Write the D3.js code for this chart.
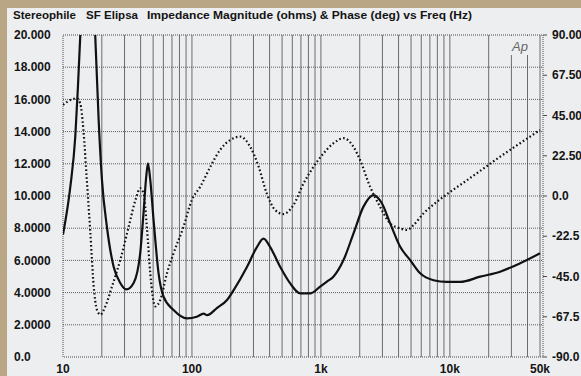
<!DOCTYPE html>
<html>
<head>
<meta charset="utf-8">
<script src="https://cdn.jsdelivr.net/npm/d3@7"></script>
<style>
  body { margin: 0; background: #b8a684; }
  svg { display: block; }
  text { font-family: "Liberation Sans", Arial, sans-serif; font-weight: bold; fill: #141414; }
</style>
</head>
<body>
<svg id="chart" width="581" height="376"></svg>
<script>
// title pieces, with the wide gaps the plotter leaves between them
const titleParts = ["Stereophile", "SF Elipsa", "Impedance Magnitude (ohms) & Phase (deg) vs Freq (Hz)"];

// impedance magnitude, solid trace
const impFreq = [10, 11.4, 12.45, 13.06, 13.6, 14.5, 15.6, 16.7, 17.8, 18.9, 20.05, 21.9, 24.7, 27.8, 31, 35.3,
  39.7, 42.1, 44.2, 45.6, 47.5, 50.4, 55.1, 60.2, 72, 91.4, 109, 123, 131, 156, 187, 210, 267, 319, 359, 404,
  484, 578, 691, 826, 987, 1113, 1254, 1497, 1790, 2138, 2557, 2970, 3444, 4118, 4920, 5885, 7470, 9480,
  12020, 17180, 24540, 35050, 50000];
const impOhms = [7.6, 10.58, 13.68, 16.79, 19.9, 26, 30, 26, 19.9, 14.72, 11.0, 8.09, 5.6, 4.6, 4.2, 4.6,
  6.45, 8.93, 11.2, 12.03, 11.0, 8.5, 5.2, 3.75, 2.92, 2.4, 2.5, 2.7, 2.6, 3.04, 3.54, 4.14, 5.59, 6.83, 7.35, 6.83,
  5.59, 4.57, 3.95, 3.95, 4.37, 4.68, 5.0, 6.02, 7.68, 9.34, 10.06, 9.55, 8.3, 6.85, 6.02, 5.2, 4.77, 4.66,
  4.66, 4.99, 5.3, 5.82, 6.44];

// phase, dotted trace
const phaseFreq = [10, 11.4, 12.8, 13.6, 14.4, 15.3, 16.3, 17.3, 18.3, 19.5, 21.3, 24, 27.8, 32.3, 36.5, 39.7,
  42.1, 44.7, 47.5, 51.9, 56.8, 64, 72, 86, 99.8, 116, 139, 165, 198, 237, 283, 329, 380, 441, 512, 613, 734,
  878, 1050, 1254, 1497, 1790, 2013, 2406, 2876, 3444, 4118, 4650, 5230, 6260, 7950, 10100, 13620, 18340,
  24540, 35050, 50000];
const phaseDeg = [50.9, 53.7, 54.6, 51.8, 36.9, 8.9, -20.7, -50.5, -63.5, -66.3, -61.7, -50.5, -35.8, -17.2, -2.2, 4.3,
  1.5, -17.2, -43.2, -61.7, -58.1, -43.2, -32, -17.2, -2.2, 5.2, 16.4, 25.7, 31.3, 33.2, 27.5, 16.4, 1.5, -7.8, -10.1, -5, 7.1,
  16.4, 23.9, 29.5, 32.3, 27.5, 20.1, 5.2, -6, -15.3, -18.1, -19, -16.2, -9.7, -3.2, 2.4, 8.9, 15.5,
  22, 29.5, 36.9];

const ohmTicks = [0, 2, 4, 6, 8, 10, 12, 14, 16, 18, 20];
const ohmTickLabels = ["0.0", "2.0000", "4.0000", "6.0000", "8.0000", "10.000", "12.000", "14.000", "16.000", "18.000", "20.000"];
const degTicks = [-90, -67.5, -45, -22.5, 0, 22.5, 45, 67.5, 90];
const degTickLabels = ["-90.0", "-67.5", "-45.0", "-22.5", "0.0", "22.50", "45.00", "67.50", "90.00"];
const freqTicks = [10, 100, 1000, 10000, 50000];
const freqTickLabels = ["10", "100", "1k", "10k", "50k"];

const svg = d3.select("#chart");
const plot = { left: 63, right: 540, top: 35, bottom: 357 };
const frameRight = 543;

const x = d3.scaleLog().domain([10, 50000]).range([plot.left, plot.right]);
const yOhm = d3.scaleLinear().domain([0, 20]).range([plot.bottom, plot.top]);
const yDeg = d3.scaleLinear().domain([-90, 90]).range([plot.bottom, plot.top]);

// scanned page: tan margin, pale panel
svg.append("rect").attr("x", 7).attr("y", 8).attr("width", 574).attr("height", 368).attr("fill", "#eceef0");

// each piece is pinned to where it sits and stretched to its measured width
const titleX = [13, 86, 147];
const titleW = [63, 52, 325];
svg.append("g").selectAll("text")
  .data(titleParts)
  .enter()
  .append("text")
  .attr("x", (d, i) => titleX[i])
  .attr("y", 19)
  .attr("font-size", 11.5)
  .attr("textLength", (d, i) => titleW[i])
  .attr("lengthAdjust", "spacingAndGlyphs")
  .text((d) => d);

const grid = svg.append("g");

grid.selectAll("line.v")
  .data(x.ticks().filter((f) => f > 10 && f < 50000))
  .enter()
  .append("line")
  .attr("x1", (f) => x(f)).attr("x2", (f) => x(f))
  .attr("y1", plot.top).attr("y2", plot.bottom)
  .attr("stroke", "#5e5e5e")
  .attr("stroke-width", 0.9);

grid.selectAll("line.h")
  .data(ohmTicks.slice(1, -1))
  .enter()
  .append("line")
  .attr("x1", plot.left).attr("x2", frameRight)
  .attr("y1", (v) => yOhm(v)).attr("y2", (v) => yOhm(v))
  .attr("stroke", "#4a4a4a")
  .attr("stroke-width", 0.9)
  .attr("stroke-dasharray", "1,1");

// the 50k line plus dotted frame
grid.append("line")
  .attr("x1", x(50000)).attr("x2", x(50000))
  .attr("y1", plot.top).attr("y2", plot.bottom)
  .attr("stroke", "#5e5e5e").attr("stroke-width", 0.9);

grid.append("rect")
  .attr("x", plot.left).attr("y", plot.top)
  .attr("width", frameRight - plot.left).attr("height", plot.bottom - plot.top)
  .attr("fill", "none")
  .attr("stroke", "#4a4a4a")
  .attr("stroke-width", 1)
  .attr("stroke-dasharray", "1,1");

// Ap logo sits over the grid
svg.append("rect").attr("x", 503).attr("y", 36).attr("width", 36).attr("height", 19).attr("fill", "#eceef0");
svg.append("text")
  .attr("x", 520).attr("y", 51)
  .attr("text-anchor", "middle")
  .attr("font-size", 13)
  .attr("font-style", "italic")
  .style("font-weight", "normal")
  .style("fill", "#666")
  .text("Ap");

// left axis labels
svg.append("g").selectAll("text")
  .data(ohmTicks)
  .enter()
  .append("text")
  .attr("x", 14)
  .attr("y", (v) => yOhm(v))
  .attr("dy", "0.35em")
  .attr("font-size", 12)
  .text((v, i) => ohmTickLabels[i]);

// right axis ticks and labels
const right = svg.append("g");
right.selectAll("line")
  .data(degTicks)
  .enter()
  .append("line")
  .attr("x1", frameRight).attr("x2", frameRight + 4)
  .attr("y1", (d) => yDeg(d)).attr("y2", (d) => yDeg(d))
  .attr("stroke", "#4a4a4a");
right.selectAll("text")
  .data(degTicks)
  .enter()
  .append("text")
  .attr("x", 552)
  .attr("y", (d) => yDeg(d))
  .attr("dy", "0.35em")
  .attr("font-size", 12)
  .text((d, i) => degTickLabels[i]);

// bottom labels, kept just inside the lower edge
svg.append("g").selectAll("text")
  .data(freqTicks)
  .enter()
  .append("text")
  .attr("x", (f) => x(f))
  .attr("y", 373)
  .attr("text-anchor", "middle")
  .attr("font-size", 12)
  .text((f, i) => freqTickLabels[i]);

svg.append("clipPath").attr("id", "plot-clip")
  .append("rect")
  .attr("x", plot.left).attr("y", plot.top)
  .attr("width", frameRight - plot.left).attr("height", plot.bottom - plot.top);

const traces = svg.append("g").attr("clip-path", "url(#plot-clip)");

const impLine = d3.line()
  .x((d) => x(d[0]))
  .y((d) => yOhm(d[1]))
  .curve(d3.curveMonotoneX);
const phaseLine = d3.line()
  .x((d) => x(d[0]))
  .y((d) => yDeg(d[1]))
  .curve(d3.curveMonotoneX);

traces.append("path")
  .datum(phaseFreq.map((f, i) => [f, phaseDeg[i]]))
  .attr("d", phaseLine)
  .attr("fill", "none")
  .attr("stroke", "#111")
  .attr("stroke-width", 2.2)
  .attr("stroke-dasharray", "1.6,2.4");

traces.append("path")
  .datum(impFreq.map((f, i) => [f, impOhms[i]]))
  .attr("d", impLine)
  .attr("fill", "none")
  .attr("stroke", "#111")
  .attr("stroke-width", 2.2);
</script>
</body>
</html>
